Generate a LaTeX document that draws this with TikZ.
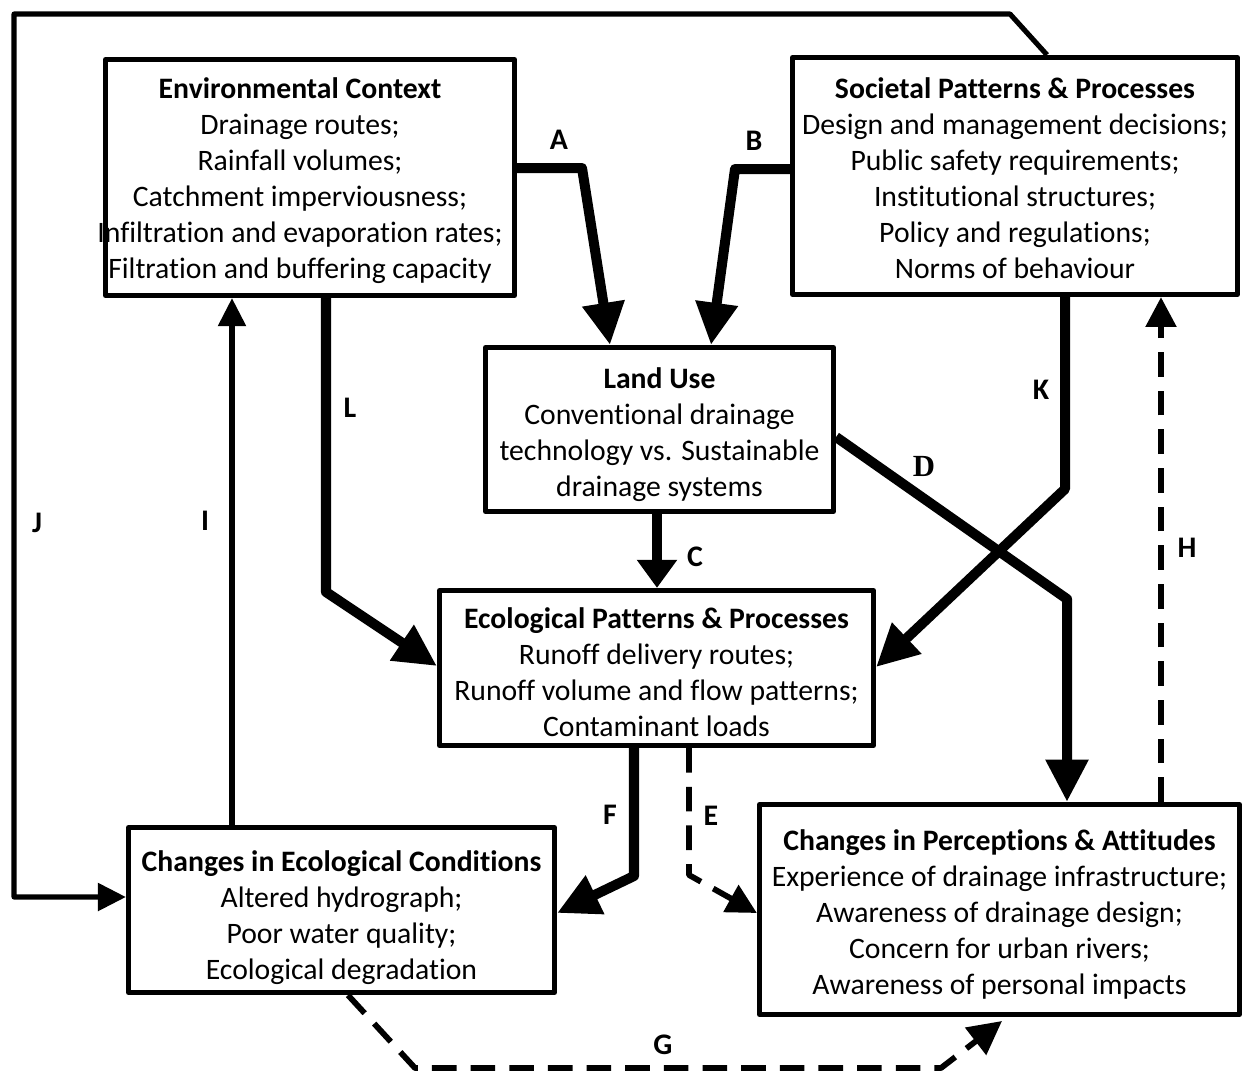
\documentclass[tikz,border=0pt]{standalone}
\usepackage{fontspec}
\setmainfont[Ligatures=NoCommon]{Carlito}
\newfontfamily\serifD{Liberation Serif}
\usetikzlibrary{arrows.meta}

\begin{document}
\begin{tikzpicture}[x=0.02cm,y=-0.02cm,line join=round,
  box/.style={draw,line width=3pt,inner sep=0pt,align=center,
    font=\fontsize{16.9}{20.5}\selectfont},
  strong/.style={line width=5.7pt,-{Triangle[length=24pt,width=23pt]}},
  weak/.style={line width=2.9pt,-{Triangle[length=16pt,width=15.5pt]}},
  dashflow/.style={line width=3.3pt,dash pattern=on 14pt off 8pt,-{Triangle[length=17pt,width=17pt]}},
  lbl/.style={font=\fontsize{17}{18}\selectfont\bfseries}]
  \useasboundingbox (0,0) rectangle (1248,1073);
  % cajas
  \node[box,minimum width=8.18cm,minimum height=4.72cm] (env) at (310,177.5)
    {\hspace*{-0.4cm}\begin{tabular}{@{}c@{}}\rule{0pt}{19pt}\textbf{Environmental Context}\\Drainage routes;\\Rainfall volumes;\\Catchment imperviousness;\\Infiltration and evaporation rates;\\Filtration and buffering capacity\end{tabular}};
  \node[box,minimum width=8.9cm,minimum height=4.74cm] (soc) at (1015,176)
    {\rule{0pt}{14pt}\textbf{Societal Patterns \& Processes}\\Design and management decisions;\\Public safety requirements;\\Institutional structures;\\Policy and regulations;\\Norms of behaviour};
  \node[box,minimum width=6.96cm,minimum height=3.28cm] (lu) at (659.5,429.5)
    {\rule{0pt}{18pt}\textbf{Land Use}\\Conventional drainage\\technology vs. Sustainable\\drainage systems};
  \node[box,minimum width=8.68cm,minimum height=3.1cm] (eco) at (656.5,668)
    {\rule{0pt}{17pt}\textbf{Ecological Patterns \& Processes}\\Runoff delivery routes;\\Runoff volume and flow patterns;\\Contaminant loads};
  \node[box,minimum width=8.52cm,minimum height=3.3cm] (checo) at (341.5,910)
    {\rule{0pt}{20pt}\textbf{Changes in Ecological Conditions}\\Altered hydrograph;\\Poor water quality;\\Ecological degradation};
  \node[box,minimum width=9.6cm,minimum height=4.2cm] (perc) at (999.5,909.5)
    {\rule{0pt}{18pt}\textbf{Changes in Perceptions \& Attitudes}\\Experience of drainage infrastructure;\\Awareness of drainage design;\\Concern for urban rivers;\\Awareness of personal impacts};
  % flechas gruesas
  \draw[strong] (env.east |- 0,168) -- (582,168) -- (lu.north -| 610,0);
  \draw[strong] (soc.west |- 0,169) -- (735,169) -- (lu.north -| 711,0);
  \draw[strong,-{Triangle[length=16pt,width=22pt]}] (lu.south -| 657,0) -- (eco.north -| 657,0);
  \draw[strong] (env.south -| 326,0) -- (326,592) -- (eco.west |- 0,666);
  \draw[strong] (soc.south -| 1065,0) -- (1065,489) -- (eco.east |- 0,667);
  \draw[strong] (lu.east |- 0,437) -- (1067,599) -- (perc.north -| 1067,0);
  \draw[strong] (eco.south -| 634,0) -- (634,876) -- (checo.east |- 0,913);
  % flechas finas
  \draw[weak] (checo.north -| 232,0) -- (env.south -| 232,0);
  \draw[weak] (soc.north -| 1047,0) -- (1010,14) -- (14,14) -- (14,897) -- (checo.west |- 0,897);
  % flechas punteadas
  \draw[dashflow] (eco.south -| 689,0) -- (689,875) -- (perc.west |- 0,913);
  \draw[dashflow] (perc.north -| 1161,0) -- (soc.south -| 1161,0);
  \draw[dashflow,-{Triangle[length=19pt,width=19pt]}] (checo.south -| 348,0) -- (415,1068) -- (941,1068) -- (1002,1021);
  % etiquetas
  \node[lbl] (la) at (559,140) {A};
  \node[lbl] (lb) at (754,141) {B};
  \node[lbl] (lc) at (695,557) {C};
  \node[lbl,font=\fontsize{17.5}{18}\selectfont\serifD\bfseries] (ld) at (924,466) {D};
  \node[lbl] (le) at (711,816) {E};
  \node[lbl] (lf) at (610,815) {F};
  \node[lbl] (lg) at (663,1045) {G};
  \node[lbl] (lh) at (1187,548) {H};
  \node[lbl] (li) at (205,521) {I};
  \node[lbl] (lj) at (37,523) {J};
  \node[lbl] (lk) at (1041,390) {K};
  \node[lbl] (ll) at (350,408) {L};
\end{tikzpicture}
\end{document}
